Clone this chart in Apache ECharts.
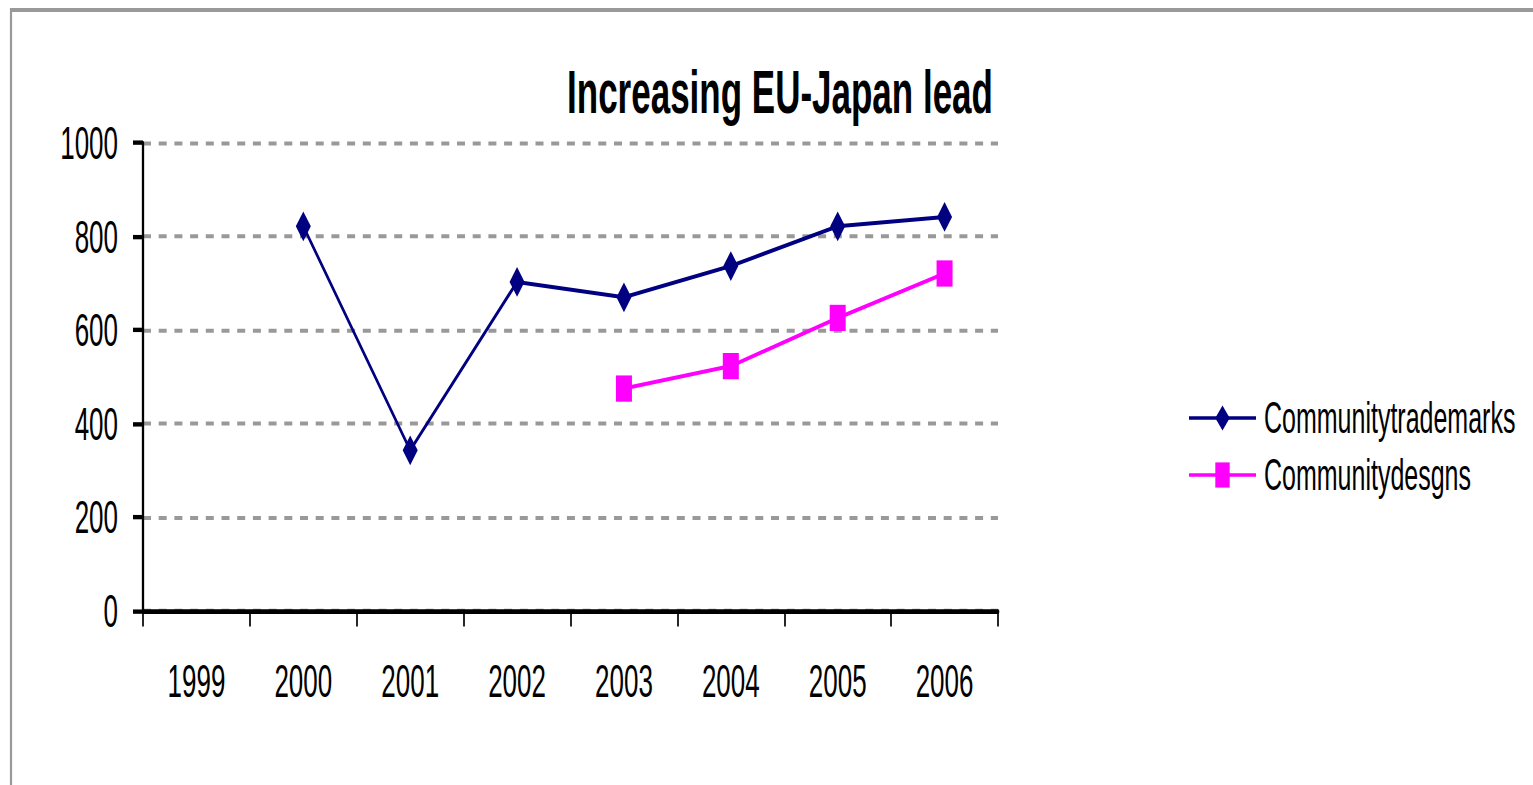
<!DOCTYPE html>
<html>
<head>
<meta charset="utf-8">
<script src="https://cdn.jsdelivr.net/npm/echarts@6/dist/echarts.min.js"></script>
<style>
  html, body { margin: 0; padding: 0; background: #fff; overflow: hidden; }
  #chart { position: absolute; left: 0; top: 0; width: 1533px; transform-origin: 0 0; }
</style>
</head>
<body>
<div id="chart"></div>
<script>
// ---- data ----
const years = ['1999', '2000', '2001', '2002', '2003', '2004', '2005', '2006'];
const trademarks = [null, 822, 343, 703, 670, 737, 822, 842];
const designs = [null, null, null, null, 475, 523, 626, 721];
const seriesNames = ['Communitytrademarks', 'Communitydesgns'];
const titleText = 'Increasing EU-Japan lead';
const yMin = 0, yMax = 1000, yStep = 200;

// ---- layout ----
// The chart is laid out in a squat box and stretched vertically,
// which gives the tall, condensed lettering and marks.
const PAGE_W = 1533, PAGE_H = 785, STRETCH = 1.75;
const el = document.getElementById('chart');
el.style.height = (PAGE_H / STRETCH) + 'px';
el.style.transform = 'scaleY(' + STRETCH + ')';
const sy = v => v / STRETCH;           // page y -> chart y

const FONT = "'Liberation Sans', Arial, sans-serif";
const NAVY = '#000080', MAGENTA = '#ff00ff', GRID = '#999999';
const LEGEND_FONT = 25;

const chart = echarts.init(el, null, { renderer: 'svg' });

chart.setOption({
  animation: false,
  backgroundColor: '#ffffff',
  graphic: [
    {
      type: 'rect',
      silent: true,
      shape: { x: 11, y: sy(10), width: 1700, height: 1000 },
      style: { fill: 'none', stroke: GRID, lineWidth: 2.2 }
    },
    {
      type: 'text',
      silent: true,
      x: 780, y: sy(92),
      style: {
        text: titleText,
        fill: '#000',
        font: 'bold 35px ' + FONT,
        textAlign: 'center',
        textVerticalAlign: 'middle'
      }
    }
  ],
  grid: {
    left: 143,
    right: PAGE_W - 998,
    top: sy(143),
    bottom: sy(PAGE_H - 610),
    containLabel: false
  },
  legend: {
    orient: 'vertical',
    left: 1188,
    top: sy(418) - LEGEND_FONT / 2,
    padding: 0,
    itemWidth: 67,
    itemHeight: 18,
    itemGap: sy(57) - LEGEND_FONT,
    textStyle: { fontFamily: FONT, fontSize: LEGEND_FONT, color: '#000', padding: [0, 0, 0, 3] },
    data: seriesNames
  },
  xAxis: {
    type: 'category',
    data: years,
    boundaryGap: true,
    axisLine: { show: true, lineStyle: { color: '#000', width: 2.7 } },
    axisTick: { show: true, length: 9, lineStyle: { color: '#000', width: 1.7 } },
    axisLabel: { color: '#000', fontFamily: FONT, fontSize: 26, lineHeight: 26, margin: 27 },
    splitLine: { show: false }
  },
  yAxis: {
    type: 'value',
    min: yMin, max: yMax, interval: yStep,
    axisLine: { show: true, lineStyle: { color: '#000', width: 2.3 } },
    axisTick: { show: true, length: 10, lineStyle: { color: '#000', width: 2.5 } },
    axisLabel: {
      color: '#000', fontFamily: FONT, fontSize: 26, margin: 25,
      formatter: v => String(v)
    },
    splitLine: { show: true, lineStyle: { color: GRID, width: 2.3, type: [8, 7.7] } }
  },
  series: [
    {
      name: seriesNames[0],
      type: 'line',
      data: trademarks,
      connectNulls: false,
      symbol: 'diamond',
      symbolSize: [15, 17],
      showSymbol: true,
      lineStyle: { color: NAVY, width: 2.3 },
      itemStyle: { color: NAVY },
      z: 3
    },
    {
      name: seriesNames[1],
      type: 'line',
      data: designs,
      connectNulls: false,
      symbol: 'rect',
      symbolSize: [16, 15],
      showSymbol: true,
      lineStyle: { color: MAGENTA, width: 2.3 },
      itemStyle: { color: MAGENTA },
      z: 2
    }
  ]
});
</script>
</body>
</html>
